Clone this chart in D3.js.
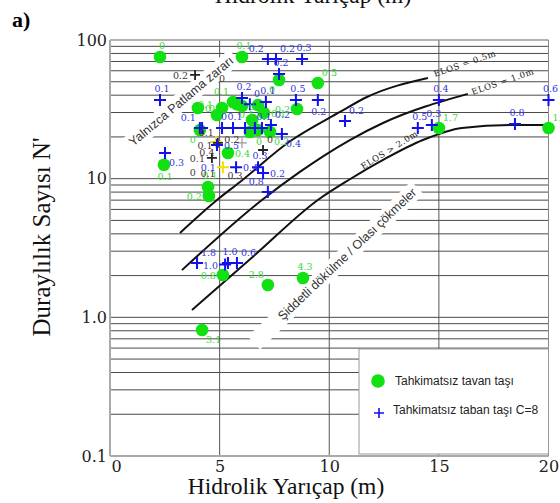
<!DOCTYPE html>
<html lang="tr">
<head>
  <meta charset="UTF-8">
  <title>Duraylılık Sayısı - Hidrolik Yarıçap</title>
  <script src="https://d3js.org/d3.v7.min.js"></script>
  <style>
    body { margin: 0; background: #fff; }
    svg { display: block; }
    .tick text { font-family: "DejaVu Serif", serif; font-size: 16px; fill: #222; }
    .ptlabel { font-family: "DejaVu Serif", serif; font-size: 9.5px; }
  </style>
</head>
<body>
<svg id="chart" width="560" height="503"></svg>
<script>
  // tahkimatsız tavan taşı (yeşil daireler)
  const greenX = [2.28, 6.02, 7.71, 9.48, 8.53, 4.01, 5.11, 4.88, 5.61, 5.79, 6.02, 6.75, 7.02, 6.48, 4.10, 6.38, 6.75, 7.30, 2.46, 5.38, 4.47, 4.51, 5.15, 7.20, 8.80, 4.20, 15.0, 20.0];
  const greenN = [75.4, 75.4, 51.5, 49.0, 31.8, 32.3, 32.3, 28.8, 35.7, 34.4, 33.4, 33.9, 29.8, 26.5, 22.4, 21.7, 22.4, 21.7, 12.6, 15.3, 8.71, 7.50, 2.02, 1.71, 1.92, 0.81, 23.2, 23.2];
  const greenLabel = ["0", "0.1", "0", "0.5", "0.2", "0", "0", "0.1", "0.1", "", "0", "0.1", "0.1", "", "0", "", "0", "0.2", "0.1", "0.4", "0.1", "0.2", "0.8", "2.8", "4.3", "3.1", "1.7", "1.3"];

  // tahkimatsız taban taşı C=8 (mavi artılar)
  const blueX = [2.28, 7.20, 7.57, 8.76, 7.71, 8.48, 9.48, 10.72, 15.0, 20.0, 14.04, 14.68, 18.47, 6.02, 7.11, 6.38, 4.10, 4.20, 5.11, 5.61, 6.16, 6.61, 6.93, 7.34, 7.84, 2.51, 4.88, 5.75, 6.75, 6.98, 7.20, 3.97, 5.38, 5.79, 5.25];
  const blueN = [36.9, 72.9, 72.9, 72.9, 56.9, 36.9, 36.9, 26.1, 36.9, 36.9, 23.2, 24.4, 24.8, 38.2, 35.7, 34.4, 23.2, 23.2, 23.2, 23.2, 23.2, 23.2, 23.2, 24.4, 21.0, 15.3, 17.5, 12.1, 12.1, 11.0, 8.02, 2.47, 2.47, 2.47, 2.40];
  const blueLabel = ["0.1", "0.2", "0.2", "0.3", "0.2", "0.5", "0.2", "0.2", "0.4", "0.6", "0.5", "0.3", "0.8", "0.2", "0.1", "0", "0.1", "", "0", "0.1", "", "", "0.1", "0.2", "0.4", "0.3", "0.5", "0.4", "0.3", "0.2", "0.8", "1.8", "1.0", "0.6", "1.0"];

  // koyu artılar ve etiketleri
  const darkX = [3.88, 4.92, 4.65, 6.98];
  const darkN = [56.0, 18.1, 14.1, 16.1];
  const darkLabel = ["0.2", "0.1", "0.1", "0"];
  const noteX = [5.11, 4.33, 4.42, 3.78, 4.47, 5.70, 5.56];
  const noteN = [53.2, 17.5, 15.6, 11.2, 11.0, 10.6, 19.3];
  const noteLabel = ["0", "0.1", "0.4", "0", "0.1", "0.3", "0.2"];

  // sarı ve gri artılar
  const yellowX = [5.15, 4.84];
  const yellowN = [12.1, 18.4];
  const yellowLabel = ["0.1", ""];
  const greyX = [6.02];
  const greyN = [18.1];

  // ELOS eğrileri
  const elos05X = [3.19, 4.88, 5.93, 8.21, 10.49, 11.72, 14.50];
  const elos05N = [4.06, 7.02, 9.46, 18.6, 30.3, 38.8, 53.2];
  const elos10X = [3.28, 6.93, 8.66, 10.94, 12.45, 16.32];
  const elos10N = [2.19, 7.02, 11.2, 19.0, 25.2, 40.9];
  const elos20X = [3.74, 6.61, 9.48, 10.94, 12.54, 14.27, 16.05, 18.38, 20.0];
  const elos20N = [1.13, 2.82, 7.02, 9.9, 13.9, 19.0, 23.2, 24.4, 24.4];

  const xTicks = [0, 5, 10, 15, 20];
  const yTicks = [0.1, 1, 10, 100];
  const yTickText = ["0.1", "1.0", "10", "100"];

  // etiket yerleşimi (veri dizilerinden ayrı)
  const greenSide = ["t", "t", "bl", "tr", "l", "r", "l", "tl", "tl", "", "r", "bl", "r", "", "bl", "", "b", "br", "b", "r", "t", "l", "l", "tl", "t", "br", "tr", "tr"];
  const blueSide = ["t", "tl", "tr", "t", "t", "t", "b", "tr", "t", "t", "t", "t", "t", "t", "t", "tr", "tl", "", "t", "t", "", "", "t", "tr", "br", "br", "r", "r", "t", "r", "tl", "tr", "t", "tr", "l"];
  const darkSide = ["l", "tl", "l", "tr"];
  const yellowSide = ["l", ""];

  const svg = d3.select("#chart");
  const x = d3.scaleLinear().domain([0, 20]).range([110, 548.5]);
  const y = d3.scaleLog().domain([0.1, 100]).range([456, 40]);

  const offsets = {
    t: [2, -8, "middle"], tr: [4, -7, "start"], tl: [-4, -7, "end"],
    r: [7, 4, "start"], l: [-7, 4, "end"],
    b: [1, 15, "middle"], br: [4, 13, "start"], bl: [-4, 13, "end"]
  };

  // ızgara
  svg.append("g").selectAll("line")
    .data(y.ticks().filter(d => d > 0.1 && d < 100))
    .join("line")
    .attr("x1", x(0)).attr("x2", x(20))
    .attr("y1", d => y(d)).attr("y2", d => y(d))
    .attr("stroke", "#4a4a4a").attr("stroke-width", 1);

  svg.append("g").selectAll("line")
    .data([5, 10, 15])
    .join("line")
    .attr("x1", d => x(d)).attr("x2", d => x(d))
    .attr("y1", y(100)).attr("y2", y(0.1))
    .attr("stroke", "#555").attr("stroke-width", 1);

  // çerçeve
  svg.append("line").attr("x1", x(0)).attr("x2", x(20)).attr("y1", y(100)).attr("y2", y(100))
    .attr("stroke", "#999").attr("stroke-width", 1.5);
  svg.append("line").attr("x1", x(0)).attr("x2", x(20)).attr("y1", y(0.1)).attr("y2", y(0.1))
    .attr("stroke", "#aaa").attr("stroke-width", 2);
  svg.append("line").attr("x1", x(0)).attr("x2", x(0)).attr("y1", y(100)).attr("y2", y(0.1))
    .attr("stroke", "#aaa").attr("stroke-width", 2);
  svg.append("line").attr("x1", x(20)).attr("x2", x(20)).attr("y1", y(100)).attr("y2", y(0.1))
    .attr("stroke", "#888").attr("stroke-width", 1);

  // döndürülmüş bölge yazıları (beyaz zeminli)
  function zoneText(cx, cy, angle, txt, padLeft) {
    const g = svg.append("g").attr("transform", `translate(${cx},${cy}) rotate(${angle})`);
    const t = g.append("text")
      .attr("text-anchor", "middle").attr("dy", "0.35em")
      .style("font-family", "'Liberation Sans', Arial, sans-serif")
      .style("font-size", "12.5px").style("fill", "#333")
      .text(txt);
    const bb = t.node().getBBox();
    g.insert("rect", "text")
      .attr("x", bb.x - padLeft).attr("y", bb.y - 2)
      .attr("width", bb.width + padLeft + 4).attr("height", bb.height + 4)
      .attr("fill", "#fff");
  }
  zoneText(x(3.24), y(36.3), -40, "Yalnızca Patlama zararı", 4);
  zoneText(x(10.81), y(2.86), -43.5, "Şiddetli dökülme / Olası çökmeler", 36);

  // eğriler
  const line = d3.line().x(d => x(d[0])).y(d => y(d[1])).curve(d3.curveMonotoneX);
  [[elos05X, elos05N], [elos10X, elos10N], [elos20X, elos20N]].forEach(([xs, ns]) => {
    svg.append("path")
      .attr("d", line(xs.map((v, i) => [v, ns[i]])))
      .attr("fill", "none").attr("stroke", "#111").attr("stroke-width", 2);
  });

  function elosText(xv, nv, angle, txt) {
    svg.append("text")
      .attr("transform", `translate(${x(xv)},${y(nv)}) rotate(${angle})`)
      .style("font-family", "'DejaVu Serif', serif").style("font-size", "8.5px")
      .style("letter-spacing", "0.6px").style("fill", "#222")
      .text(txt);
  }
  elosText(14.82, 54.1, -19, "ELOS = 0.5m");
  elosText(16.55, 40.1, -19, "ELOS = 1.0m");
  elosText(11.55, 11.6, -32, "ELOS > 2.0m");

  // işaretler
  const plus = s => `M${-s},0H${s}M0,${-s}V${s}`;

  function drawPluses(xs, ns, color, size, width) {
    svg.append("g").selectAll("path")
      .data(xs.map((v, i) => [v, ns[i]]))
      .join("path")
      .attr("transform", d => `translate(${x(d[0])},${y(d[1])})`)
      .attr("d", plus(size))
      .attr("stroke", color).attr("stroke-width", width).attr("fill", "none");
  }
  function drawLabels(xs, ns, labels, sides, color) {
    svg.append("g").selectAll("text")
      .data(xs.map((v, i) => ({ x: v, n: ns[i], t: labels[i], s: sides[i] })).filter(d => d.t !== ""))
      .join("text")
      .attr("class", "ptlabel")
      .attr("x", d => x(d.x) + offsets[d.s][0])
      .attr("y", d => y(d.n) + offsets[d.s][1])
      .attr("text-anchor", d => offsets[d.s][2])
      .style("fill", color)
      .text(d => d.t);
  }

  drawPluses(greyX, greyN, "#999", 5, 1.2);
  drawPluses(yellowX, yellowN, "#f5e000", 6, 2);
  drawPluses(darkX, darkN, "#222", 5, 1.8);

  svg.append("g").selectAll("circle")
    .data(greenX.map((v, i) => [v, greenN[i]]))
    .join("circle")
    .attr("cx", d => x(d[0])).attr("cy", d => y(d[1]))
    .attr("r", 6.3).attr("fill", "#11e011");

  drawPluses(blueX, blueN, "#1010f0", 6, 2);

  drawLabels(greenX, greenN, greenLabel, greenSide, "#3ad83a");
  drawLabels(blueX, blueN, blueLabel, blueSide, "#3434e0");
  drawLabels(yellowX, yellowN, yellowLabel, yellowSide, "#3434e0");
  drawLabels(darkX, darkN, darkLabel, darkSide, "#4a3434");
  svg.append("g").selectAll("text")
    .data(noteX.map((v, i) => [v, noteN[i], noteLabel[i]]))
    .join("text")
    .attr("class", "ptlabel")
    .attr("x", d => x(d[0])).attr("y", d => y(d[1]) + 4)
    .attr("text-anchor", "middle")
    .style("fill", "#4a3434")
    .text(d => d[2]);

  // lejant
  const lg = svg.append("g");
  lg.append("rect").attr("x", 359).attr("y", 349).attr("width", 189.5).attr("height", 105)
    .attr("fill", "#fff").attr("stroke", "#999").attr("stroke-width", 1);
  lg.append("circle").attr("cx", 378).attr("cy", 381).attr("r", 6.8).attr("fill", "#11e011");
  lg.append("path").attr("transform", "translate(379,413)").attr("d", plus(5))
    .attr("stroke", "#1010f0").attr("stroke-width", 1.6);
  lg.append("text").attr("x", 395).attr("y", 385)
    .style("font-family", "'Liberation Sans', Arial, sans-serif").style("font-size", "12px").style("fill", "#222")
    .text("Tahkimatsız tavan taşı");
  lg.append("text").attr("x", 393).attr("y", 414)
    .style("font-family", "'Liberation Sans', Arial, sans-serif").style("font-size", "12px").style("fill", "#222")
    .text("Tahkimatsız taban taşı C=8");

  // eksenler
  const yAxis = svg.append("g").attr("transform", `translate(${x(0)},0)`)
    .call(d3.axisLeft(y).tickValues(yTicks).tickFormat((d, i) => yTickText[i]).tickSize(0).tickPadding(3));
  yAxis.select(".domain").remove();

  const xAxis = svg.append("g").attr("transform", `translate(0,${y(0.1)})`)
    .call(d3.axisBottom(x).tickValues(xTicks).tickSize(0).tickPadding(5));
  xAxis.select(".domain").remove();
  xAxis.selectAll(".tick text").filter(d => d === 0).attr("text-anchor", "start").attr("x", 1);

  // başlıklar
  svg.append("text").attr("x", 286).attr("y", 494).attr("text-anchor", "middle")
    .style("font-family", "'Liberation Serif', 'Times New Roman', serif").style("font-size", "23.5px").style("fill", "#111")
    .text("Hidrolik Yarıçap (m)");
  svg.append("text").attr("x", 313).attr("y", 3).attr("text-anchor", "middle")
    .style("font-family", "'Liberation Serif', 'Times New Roman', serif").style("font-size", "23.5px").style("fill", "#111")
    .text("Hidrolik Yarıçap (m)");
  svg.append("text").attr("transform", "translate(50,237) rotate(-90)").attr("text-anchor", "middle")
    .style("font-family", "'Liberation Serif', 'Times New Roman', serif").style("font-size", "25px").style("fill", "#111")
    .text("Duraylılık Sayısı N'");
  svg.append("text").attr("x", 12).attr("y", 27)
    .style("font-family", "'Liberation Serif', 'Times New Roman', serif").style("font-size", "22px")
    .style("font-weight", "bold").style("fill", "#000")
    .text("a)");
</script>
</body>
</html>
